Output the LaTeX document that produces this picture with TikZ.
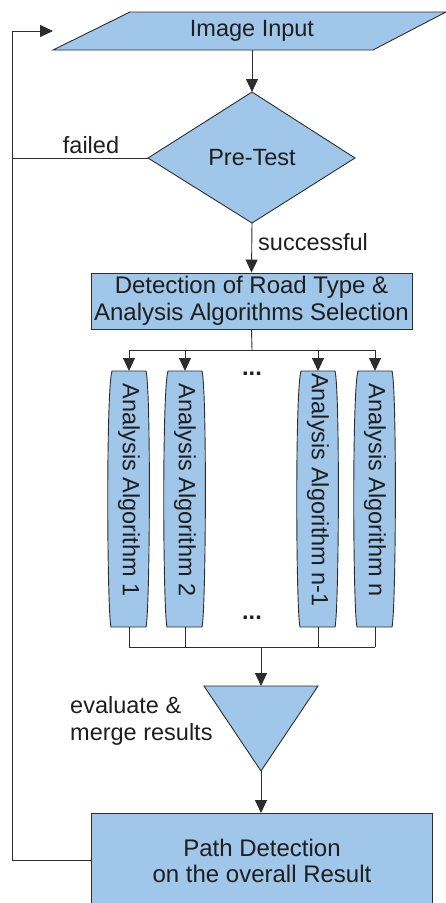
\documentclass[tikz,border=0pt]{standalone}
\usepackage{fontspec}
\setmainfont{Liberation Sans}
\usetikzlibrary{arrows.meta}
\definecolor{boxfill}{RGB}{160,198,233}
\definecolor{lin}{RGB}{45,45,45}
\definecolor{txt}{RGB}{30,30,30}
\begin{document}
\begin{tikzpicture}[x=1pt,y=-1pt,
  shp/.style={draw=lin,fill=boxfill,line width=0.9pt},
  con/.style={draw=lin,line width=0.9pt},
  arr/.style={con,-{Triangle[length=13pt,width=12pt]}},
  lbl/.style={text=txt,font=\fontsize{23.5}{27}\selectfont,inner sep=0pt},
  alg/.style={lbl,rotate=-90}]
\useasboundingbox (0,0) rectangle (446,903);
% Image input parallelogram
\draw[shp] (130,12) -- (446,12) -- (373,50) -- (53,50) -- cycle;
\node[lbl] (inp) at (252,31) {Image Input};
\coordinate (inpB) at (252,50);
\coordinate (inpL) at (53,31);
% Pre-test diamond
\draw[shp] (252,92) -- (355,158) -- (252,223) -- (148,158) -- cycle;
\node[lbl] (pre) at (252,158) {Pre-Test};
\coordinate (preT) at (252,92);
\coordinate (preB) at (252,223);
\coordinate (preL) at (148,158);
% Detection box
\node[shp,minimum width=321pt,minimum height=56pt,inner sep=0pt,align=center,
  text=txt,font=\fontsize{24}{27}\selectfont] (det) at (251.5,301)
  {Detection of Road Type \&\\Analysis Algorithms Selection};
% algorithms
\foreach \cx/\nm/\t in {129/a1/1,185/a2/2,318/a3/n-1,375/a4/n}{
  \draw[shp] (\cx-17,371) .. controls (\cx-23,390) and (\cx-22,610) .. (\cx-18,627)
     -- (\cx+17,627) .. controls (\cx+21,610) and (\cx+22,390) .. (\cx+17,371) -- cycle;
  \node[alg] (\nm) at (\cx,490) {Analysis Algorithm \t};
  \coordinate (\nm T) at (\cx,371);
  \coordinate (\nm B) at (\cx,627);
  \coordinate (\nm S) at (\cx,350);
  \coordinate (\nm M) at (\cx,647);
}
\node[lbl] (d1) at (252,374) {\textbf{...}};
\node[lbl] (d2) at (252,618) {\textbf{...}};
% triangle
\draw[shp] (204,686) -- (318,686) -- (261,771) -- cycle;
\coordinate (triT) at (261,686);
\coordinate (triB) at (261,771);
\coordinate (merge) at (261,647);
\node[lbl,align=left,anchor=west] (ev) at (70,721) {evaluate \&\\merge results};
% path detection box
\draw[shp] (91,813) rectangle (432,915);
\node[lbl,align=center,font=\fontsize{24}{26}\selectfont] (path) at (262,861) {Path Detection\\on the overall Result};
\coordinate (pathT) at (261,813);
\coordinate (pathL) at (91,860);
% connectors
\draw[arr] (inpB) -- (preT);
\draw[arr] (preB) -- (det.north);
\node[lbl,anchor=west] (succ) at (258,242) {successful};
\draw[con] (preL) -- (12,158);
\node[lbl] (fail) at (91,145) {failed};
\draw[arr] (pathL) -- (12,860) -- (12,31) -- (inpL);
\draw[con] (det.south) -- (252,350);
\draw[con] (a1S) -- (a4S);
\foreach \nm in {a1,a2,a3,a4}{
  \draw[arr] (\nm S) -- (\nm T);
  \draw[con] (\nm B) -- (\nm M);
}
\draw[con] (a1M) -- (a4M);
\draw[arr] (merge) -- (triT);
\draw[arr] (triB) -- (pathT);
\end{tikzpicture}
\end{document}
